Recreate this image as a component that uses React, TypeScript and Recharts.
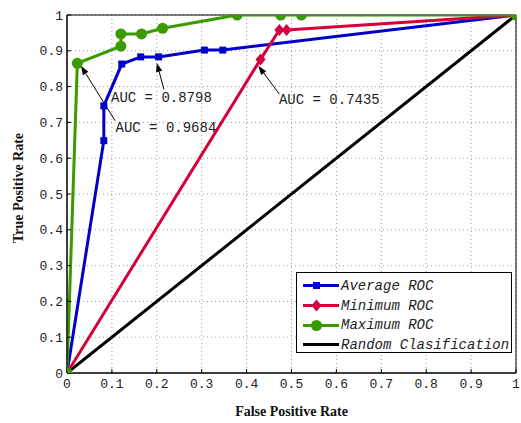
import { ComposedChart, Line, XAxis, YAxis, CartesianGrid, ReferenceArea, ReferenceLine, ReferenceDot, Label } from 'recharts';

// ROC curves (false positive rate -> true positive rate)
const averageFpr = [0, 0.082, 0.082, 0.122, 0.164, 0.204, 0.306, 0.347, 1];
const averageTpr = [0, 0.649, 0.746, 0.863, 0.883, 0.883, 0.902, 0.902, 1];
const minimumFpr = [0, 0.431, 0.473, 0.489, 1];
const minimumTpr = [0, 0.876, 0.958, 0.958, 1];
const maximumFpr = [0, 0.023, 0.12, 0.12, 0.166, 0.213, 0.379, 0.476, 0.522, 1];
const maximumTpr = [0, 0.865, 0.913, 0.947, 0.947, 0.963, 1, 1, 1, 1];
const randomFpr = [0, 1];
const randomTpr = [0, 1];

const ticks = [0, 0.1, 0.2, 0.3, 0.4, 0.5, 0.6, 0.7, 0.8, 0.9, 1];
const seriesNames = ['Average ROC', 'Minimum ROC', 'Maximum ROC', 'Random Clasification'];
const aucTexts = ['AUC = 0.8798', 'AUC = 0.9684', 'AUC = 0.7435'];

// annotation anchors, in data units
const aucArrows = [
  { tail: { x: 0.216, y: 0.792 }, tip: { x: 0.2, y: 0.866 }, text: { x: 0.098, y: 0.767 } },
  { tail: { x: 0.107, y: 0.705 }, tip: { x: 0.031, y: 0.858 }, text: { x: 0.108, y: 0.684 } },
  { tail: { x: 0.473, y: 0.779 }, tip: { x: 0.426, y: 0.858 }, text: { x: 0.472, y: 0.763 } },
];

const BLUE = '#0000c8';
const RED = '#d6003c';
const GREEN = '#3a9a00';
const MONO = '"Liberation Mono", "DejaVu Sans Mono", monospace';
const SERIF = '"Liberation Serif", "Times New Roman", serif';

const toPoints = (xs: number[], ys: number[]) => xs.map((x, i) => ({ x, y: ys[i] }));

const Square = (p: any) => <rect key={p.index} x={p.cx - 3.5} y={p.cy - 3.5} width={7} height={7} fill={BLUE} />;
const Diamond = (p: any) => (
  <polygon key={p.index} points={`${p.cx},${p.cy - 6} ${p.cx + 5},${p.cy} ${p.cx},${p.cy + 6} ${p.cx - 5},${p.cy}`} fill={RED} />
);
const Circle = (p: any) => <circle key={p.index} cx={p.cx} cy={p.cy} r={5.5} fill={GREEN} />;

const Arrow = (p: any) => {
  const { x1, y1, x2, y2 } = p;
  const a = Math.atan2(y2 - y1, x2 - x1);
  const len = 9;
  const w = 3.2;
  const bx = x2 - len * Math.cos(a);
  const by = y2 - len * Math.sin(a);
  const nx = -Math.sin(a) * w;
  const ny = Math.cos(a) * w;
  return (
    <g>
      <line x1={x1} y1={y1} x2={bx} y2={by} stroke="#000" strokeWidth={1} />
      <polygon points={`${x2},${y2} ${bx + nx},${by + ny} ${bx - nx},${by - ny}`} fill="#000" />
    </g>
  );
};

const YTitle = (props: any) => {
  const vb = props.viewBox;
  const cy = vb.y + vb.height / 2 - 6;
  return (
    <text x={18} y={cy} transform={`rotate(-90 18 ${cy})`} textAnchor="middle" dominantBaseline="central"
      style={{ fontFamily: SERIF, fontWeight: 'bold', fontSize: 14 }} fill="#111">
      True Positive Rate
    </text>
  );
};

const legendIcons = [
  <rect x={16} y={5} width={7} height={7} fill={BLUE} />,
  <polygon points="19.5,2.5 24.5,8.5 19.5,14.5 14.5,8.5" fill={RED} />,
  <circle cx={19.5} cy={8.5} r={5.5} fill={GREEN} />,
  null,
];
const legendColors = [BLUE, RED, GREEN, '#000'];

const tickFont = { fontFamily: MONO, fontSize: 13, fill: '#222' };

export default function App() {
  return (
    <div style={{ position: 'absolute', left: 0, top: 0, width: 521, height: 423, background: '#fff' }}>
      <ComposedChart width={521} height={423} margin={{ top: 15, right: 5, bottom: 0, left: 0 }}>
        <CartesianGrid stroke="#9a9a9a" strokeDasharray="1 3" />
        <XAxis type="number" dataKey="x" domain={[0, 1]} ticks={ticks} height={50} tickSize={-4} tickMargin={10}
          tickLine={{ stroke: '#000' }} axisLine={{ stroke: '#000' }} allowDataOverflow
          tick={tickFont} tickFormatter={(v: number) => String(v)}>
          <Label value="False Positive Rate" position="insideBottom" offset={7}
            style={{ fontFamily: SERIF, fontWeight: 'bold', fontSize: 14, fill: '#111' }} />
        </XAxis>
        <XAxis xAxisId="top" orientation="top" type="number" dataKey="x" domain={[0, 1]} ticks={ticks} height={0}
          tickSize={-4} tick={false} tickLine={{ stroke: '#000' }} axisLine={{ stroke: '#000' }} allowDataOverflow />
        <YAxis type="number" domain={[0, 1]} ticks={ticks} width={67} tickSize={-4} tickMargin={8}
          tickLine={{ stroke: '#000' }} axisLine={{ stroke: '#000' }} allowDataOverflow
          tick={tickFont} tickFormatter={(v: number) => String(v)}
          label={<YTitle />} />
        <YAxis yAxisId="right" orientation="right" type="number" domain={[0, 1]} ticks={ticks} width={0}
          tickSize={-4} tick={false} tickLine={{ stroke: '#000' }} axisLine={{ stroke: '#000' }} allowDataOverflow />
        <ReferenceArea x1={0} x2={1} y1={0} y2={1} fill="none" stroke="#000" strokeWidth={1} />
        {aucArrows.map((a, i) => (
          <ReferenceLine key={'arr' + i} segment={[a.tail, a.tip]} shape={Arrow} />
        ))}
        {aucArrows.map((a, i) => (
          <ReferenceDot key={'txt' + i} x={a.text.x} y={a.text.y} r={0}
            shape={(p: any) => (
              <text x={p.cx} y={p.cy} dominantBaseline="central" style={{ fontFamily: MONO, fontSize: 14 }} fill="#222">
                {aucTexts[i]}
              </text>
            )} />
        ))}
        <Line data={toPoints(randomFpr, randomTpr)} dataKey="y" type="linear" stroke="#000" strokeWidth={3}
          dot={false} activeDot={false} isAnimationActive={false} name={seriesNames[3]} />
        <Line data={toPoints(averageFpr, averageTpr)} dataKey="y" type="linear" stroke={BLUE} strokeWidth={3}
          dot={Square} activeDot={false} isAnimationActive={false} name={seriesNames[0]} />
        <Line data={toPoints(minimumFpr, minimumTpr)} dataKey="y" type="linear" stroke={RED} strokeWidth={3}
          dot={Diamond} activeDot={false} isAnimationActive={false} name={seriesNames[1]} />
        <Line data={toPoints(maximumFpr, maximumTpr)} dataKey="y" type="linear" stroke={GREEN} strokeWidth={3}
          dot={Circle} activeDot={false} isAnimationActive={false} name={seriesNames[2]} />
      </ComposedChart>
      <div style={{ position: 'absolute', left: 296, top: 272, width: 216, height: 81, border: '1px solid #000',
        background: '#fff', paddingTop: 3, boxSizing: 'border-box' }}>
        {seriesNames.map((name, i) => (
          <div key={name} style={{ display: 'flex', alignItems: 'center', height: 19.7, whiteSpace: 'nowrap' }}>
            <svg width={44} height={17} style={{ flex: 'none' }}>
              <line x1={6} y1={8.5} x2={42} y2={8.5} stroke={legendColors[i]} strokeWidth={3} />
              {legendIcons[i]}
            </svg>
            <span style={{ fontFamily: MONO, fontStyle: 'italic', fontSize: 14, color: '#222' }}>{name}</span>
          </div>
        ))}
      </div>
    </div>
  );
}
